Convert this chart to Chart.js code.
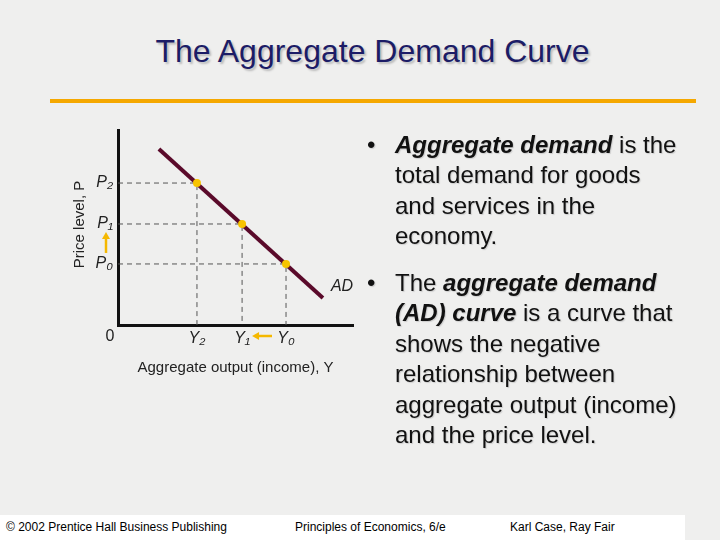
<!DOCTYPE html>
<html>
<head>
<meta charset="utf-8">
<script src="https://cdn.jsdelivr.net/npm/chart.js@4"></script>
<style>
  body { margin: 0; width: 720px; height: 540px; background: #efefee; position: relative; overflow: hidden; font-family: "Liberation Sans", Arial, sans-serif; }
  #title { position: absolute; left: 0; width: 745px; top: 33px; text-align: center; font-size: 32px; color: #1c1c66; text-shadow: 2px 2px 2px #bbb; }
  #rule { position: absolute; left: 50px; top: 99px; width: 646px; height: 4px; background: #f5a800; }
  #chart { position: absolute; left: 0; top: 0; }
  .txt { position: absolute; left: 367px; width: 318px; font-size: 24px; line-height: 30.4px; color: #111; text-shadow: 1px 1px 1px #ccc; }
  .txt span.b { position: absolute; left: 0; }
  .txt div { margin-left: 28px; }
  #footer { position: absolute; left: 0; top: 515px; width: 685px; height: 25px; background: #fff; font-size: 12px; }
  #footer span { position: absolute; top: 5px; }
</style>
</head>
<body>
<div id="title">The Aggregate Demand Curve</div>
<div id="rule"></div>
<canvas id="chart" width="720" height="540"></canvas>
<div class="txt" style="top:130px"><span class="b">•</span><div><b><i>Aggregate demand</i></b> is the total demand for goods and services in the economy.</div></div>
<div class="txt" style="top:268px"><span class="b">•</span><div>The <b><i>aggregate demand (AD) curve</i></b> is a curve that shows the negative relationship between aggregate output (income) and the price level.</div></div>
<div id="footer">
  <span style="left:6px">© 2002 Prentice Hall Business Publishing</span>
  <span style="left:295px">Principles of Economics, 6/e</span>
  <span style="left:510px">Karl Case, Ray Fair</span>
</div>
<script>
// AD line endpoints and equilibrium points (axis units 0..100)
var adX = [17.4, 87.2];
var adY = [90.3, 13.8];
var pointX = [33.6, 52.8, 71.5];   // Y2, Y1, Y0
var pointY = [72.8, 51.8, 31.3];   // P2, P1, P0
var xLabels = ["Y₂", "Y₁", "Y₀"];
var yLabels = ["P₂", "P₁", "P₀"];

var datasets = [];
for (var i = 0; i < pointX.length; i++) {
  datasets.push({
    data: [{x: 0, y: pointY[i]}, {x: pointX[i], y: pointY[i]}, {x: pointX[i], y: 0}],
    borderColor: "#555", borderWidth: 1, borderDash: [5, 4], pointRadius: 0, order: 3
  });
}
datasets.push({
  data: [{x: adX[0], y: adY[0]}, {x: adX[1], y: adY[1]}],
  borderColor: "#5a0a2a", borderWidth: 4, pointRadius: 0, order: 2
});
var pts = [];
for (var j = 0; j < pointX.length; j++) pts.push({x: pointX[j], y: pointY[j]});
datasets.push({
  data: pts, showLine: false, pointRadius: 4, pointBackgroundColor: "#f7c400", pointBorderWidth: 0, order: 0
});

var labelsPlugin = {
  id: "labels",
  afterDraw: function(c) {
    var ctx = c.ctx, xs = c.scales.x, ys = c.scales.y;
    ctx.save();
    ctx.fillStyle = "#222";
    ctx.textBaseline = "middle";
    ctx.font = "italic 16px 'Liberation Sans', Arial";
    ctx.textAlign = "right";
    for (var i = 0; i < yLabels.length; i++) ctx.fillText(yLabels[i], xs.left - 5, ys.getPixelForValue(pointY[i]));
    ctx.textAlign = "center";
    for (var k = 0; k < xLabels.length; k++) ctx.fillText(xLabels[k], xs.getPixelForValue(pointX[k]), ys.bottom + 14);
    ctx.textAlign = "left";
    ctx.fillText("AD", xs.getPixelForValue(adX[1]) + 8, ys.getPixelForValue(adY[1]) - 12);
    ctx.font = "16px 'Liberation Sans', Arial";
    ctx.textAlign = "center";
    ctx.fillText("0", xs.left - 8, ys.bottom + 12);
    ctx.font = "15px 'Liberation Sans', Arial";
    ctx.fillText("Aggregate output (income), Y", (xs.left + xs.right) / 2, ys.bottom + 43);
    ctx.translate(xs.left - 38, (ys.top + ys.bottom) / 2 - 3);
    ctx.rotate(-Math.PI / 2);
    ctx.fillText("Price level, P", 0, 0);
    ctx.restore();

    // yellow arrows
    ctx.save();
    ctx.strokeStyle = ctx.fillStyle = "#f5b800";
    ctx.lineWidth = 2.5;
    var ax = xs.left - 12, ay0 = ys.getPixelForValue(pointY[2]) - 11, ay1 = ys.getPixelForValue(pointY[1]) + 8;
    ctx.beginPath(); ctx.moveTo(ax, ay0); ctx.lineTo(ax, ay1 + 5); ctx.stroke();
    ctx.beginPath(); ctx.moveTo(ax, ay1); ctx.lineTo(ax - 4, ay1 + 7); ctx.lineTo(ax + 4, ay1 + 7); ctx.fill();
    var hy = ys.bottom + 11, hx0 = xs.getPixelForValue(pointX[2]) - 14, hx1 = xs.getPixelForValue(pointX[1]) + 10;
    ctx.beginPath(); ctx.moveTo(hx0, hy); ctx.lineTo(hx1 + 5, hy); ctx.stroke();
    ctx.beginPath(); ctx.moveTo(hx1, hy); ctx.lineTo(hx1 + 7, hy - 4); ctx.lineTo(hx1 + 7, hy + 4); ctx.fill();
    ctx.restore();
  }
};

new Chart(document.getElementById("chart"), {
  type: "line",
  data: { datasets: datasets },
  options: {
    responsive: false, animation: false,
    layout: { padding: { left: 118, top: 130, right: 367, bottom: 215 } },
    plugins: { legend: { display: false }, tooltip: { enabled: false } },
    scales: {
      x: { type: "linear", min: 0, max: 100,
           grid: { display: false, drawTicks: false }, ticks: { display: false },
           border: { color: "#111", width: 3 } },
      y: { type: "linear", min: 0, max: 100,
           grid: { display: false, drawTicks: false }, ticks: { display: false },
           border: { color: "#111", width: 3 } }
    }
  },
  plugins: [labelsPlugin]
});
</script>
</body>
</html>
